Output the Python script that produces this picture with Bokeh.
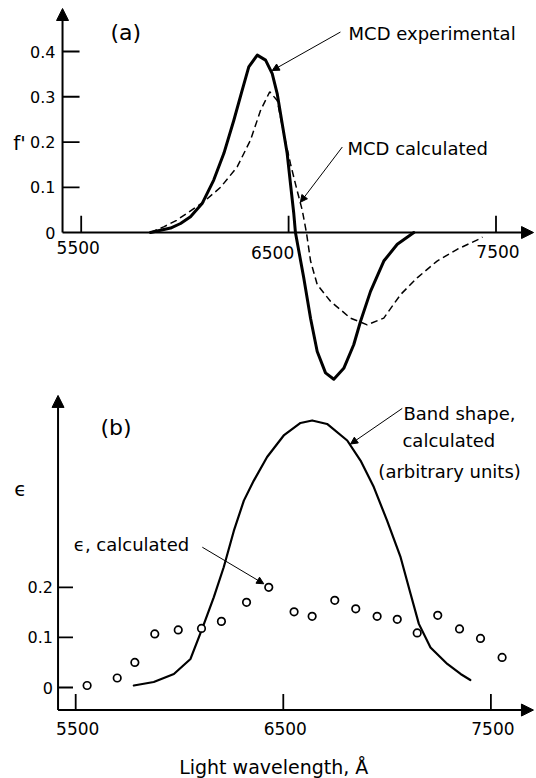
from bokeh.plotting import figure
from bokeh.models import Arrow, NormalHead, Label
from bokeh.layouts import column
from bokeh.embed import file_html
from bokeh.resources import INLINE
from bokeh.core.properties import value

FONT = "DejaVu Sans"

# ---------------- data: panel (a) ----------------
exp_wl = [5834, 5931, 5979, 6027, 6083, 6139, 6188, 6236, 6276, 6308, 6349, 6389, 6421,
          6445, 6469, 6493, 6509, 6525, 6533, 6573, 6606, 6638, 6678, 6718, 6766, 6814,
          6847, 6895, 6959, 7024, 7104]
exp_f = [0.0, 0.01, 0.02, 0.035, 0.064, 0.116, 0.175, 0.248, 0.314, 0.366, 0.392, 0.381,
         0.351, 0.307, 0.241, 0.175, 0.108, 0.042, 0.0, -0.10, -0.19, -0.263, -0.31,
         -0.324, -0.30, -0.248, -0.196, -0.13, -0.063, -0.026, 0.0]

calc_wl = [5834, 5900, 5960, 6091, 6172, 6252, 6316, 6365, 6409, 6445, 6477, 6509, 6541,
           6566, 6586, 6606, 6638, 6702, 6798, 6879, 6959, 7040, 7120, 7216, 7313, 7425,
           7435]
calc_f = [0.0, 0.013, 0.027, 0.068, 0.10, 0.145, 0.204, 0.27, 0.311, 0.292, 0.218, 0.152,
          0.093, 0.049, 0.0, -0.063, -0.115, -0.152, -0.189, -0.204, -0.189, -0.137, -0.10,
          -0.063, -0.037, -0.013, -0.01]

a_xticks = [5500, 6500, 7500]
a_xlabels = ["5500", "6500", "7500"]
a_yticks = [0.1, 0.2, 0.3, 0.4]
a_ylabel_vals = [0, 0.1, 0.2, 0.3, 0.4]
a_ylabels = ["0", "0.1", "0.2", "0.3", "0.4"]

# ---------------- data: panel (b) ----------------
band_wl = [5780, 5876, 5973, 6053, 6109, 6165, 6213, 6262, 6310, 6358, 6422, 6502, 6583,
           6639, 6711, 6808, 6872, 6936, 7000, 7065, 7113, 7153, 7209, 7290, 7354, 7401]
band_val = [0.004, 0.011, 0.027, 0.057, 0.117, 0.18, 0.24, 0.313, 0.373, 0.413, 0.46,
            0.503, 0.528, 0.533, 0.526, 0.493, 0.453, 0.40, 0.333, 0.26, 0.187, 0.127,
            0.08, 0.047, 0.027, 0.015]

eps_wl = [5555, 5700, 5785, 5881, 5994, 6106, 6202, 6323, 6430, 6552, 6639, 6748, 6849,
          6952, 7049, 7145, 7244, 7349, 7450, 7554]
eps_val = [0.004, 0.019, 0.05, 0.107, 0.115, 0.118, 0.132, 0.17, 0.20, 0.151, 0.142, 0.174,
           0.157, 0.142, 0.136, 0.109, 0.144, 0.117, 0.098, 0.06]

b_xticks = [5500, 6500, 7500]
b_xlabels = ["5500", "6500", "7500"]
b_yticks = [0, 0.1, 0.2]
b_ylabels = ["0", "0.1", "0.2"]


def make_fig(h, xr, yr):
    p = figure(width=536, height=h, x_range=xr, y_range=yr, output_backend="svg",
               toolbar_location=None, x_axis_type=None, y_axis_type=None, min_border=0,
               outline_line_color=None, background_fill_color="white",
               border_fill_color="white")
    return p


def label(p, x, y, text, size, align="left"):
    p.add_layout(Label(x=x, y=y, text=text, text_font=FONT, text_font_size=f"{size}px",
                       text_align=align, text_baseline="middle", text_color="black"))


def arrow(p, x0, y0, x1, y1, lw=1.0, size=7):
    p.add_layout(Arrow(x_start=x0, y_start=y0, x_end=x1, y_end=y1, line_width=lw,
                       line_color="black",
                       end=NormalHead(size=size, fill_color="black", line_color="black",
                                      line_width=1)))


# ================= panel (a) =================
p1 = make_fig(390, (5110.9, 7695.3), (-0.349, 0.5127))
ax_a = 5410
arrow(p1, ax_a, 0, 7681, 0, lw=2, size=12)
arrow(p1, ax_a, 0, ax_a, 0.495, lw=2, size=12)
p1.segment(x0=a_xticks, y0=[0] * len(a_xticks), x1=a_xticks, y1=[0.037] * len(a_xticks),
           line_color="black", line_width=1.8)
p1.segment(x0=[ax_a] * len(a_yticks), y0=a_yticks, x1=[ax_a + 82] * len(a_yticks),
           y1=a_yticks, line_color="black", line_width=1.8)
p1.text(x=a_xticks, y=[0] * len(a_xticks), text=a_xlabels, x_offset=[-3, -16, 2],
        y_offset=[15, 20, 19], text_font=value(FONT), text_font_size="17px",
        text_align="center", text_baseline="middle", text_color="black")
p1.text(x=[ax_a] * len(a_ylabel_vals), y=a_ylabel_vals, text=a_ylabels, x_offset=-7,
        text_font=value(FONT), text_font_size="16px", text_align="right",
        text_baseline="middle", text_color="black")
p1.line(calc_wl, calc_f, line_color="black", line_width=1.5, line_dash="7 4")
p1.line(exp_wl, exp_f, line_color="black", line_width=3, line_join="round",
        line_cap="round")
label(p1, 5641, 0.442, "(a)", 22)
label(p1, 5203, 0.197, "f'", 20, "center")
label(p1, 6789, 0.439, "MCD experimental", 18)
label(p1, 6784, 0.185, "MCD calculated", 18)
arrow(p1, 6750, 0.443, 6421, 0.358)
arrow(p1, 6759, 0.189, 6557, 0.067)

# ================= panel (b) =================
p2 = make_fig(388, (5137.8, 7719.7), (-0.1816, 0.5928))
ax_b = 5415
xb = -0.045
arrow(p2, ax_b, xb, 7705, xb, lw=2, size=12)
arrow(p2, ax_b, xb, ax_b, 0.583, lw=2, size=12)
p2.segment(x0=b_xticks, y0=[xb] * len(b_xticks), x1=b_xticks,
           y1=[xb + 0.032] * len(b_xticks), line_color="black", line_width=1.8)
p2.segment(x0=[ax_b] * len(b_yticks), y0=b_yticks, x1=[ax_b + 72] * len(b_yticks),
           y1=b_yticks, line_color="black", line_width=1.8)
p2.text(x=b_xticks, y=[xb] * len(b_xticks), text=b_xlabels, x_offset=[2, 2, 2],
        y_offset=18, text_font=value(FONT), text_font_size="17px",
        text_align="center", text_baseline="middle", text_color="black")
p2.text(x=[ax_b] * len(b_yticks), y=b_yticks, text=b_ylabels, x_offset=-5,
        text_font=value(FONT), text_font_size="16px", text_align="right",
        text_baseline="middle", text_color="black")
p2.line(band_wl, band_val, line_color="black", line_width=2.2, line_join="round",
        line_cap="round")
p2.scatter(eps_wl, eps_val, marker="circle", size=7.5, fill_color="white",
           line_color="black", line_width=1.7)
label(p2, 5619, 0.519, "(b)", 22)
label(p2, 5234, 0.397, "ϵ", 20, "center")
label(p2, 5491, 0.285, "ϵ, calculated", 18)
arrow(p2, 6110, 0.280, 6406, 0.207)
label(p2, 7079, 0.547, "Band shape,", 18)
label(p2, 7074, 0.493, "calculated", 18)
label(p2, 6958, 0.431, "(arbitrary units)", 18)
arrow(p2, 7073, 0.557, 6824, 0.486)
label(p2, 6454, -0.158, "Light wavelength, Å", 19, "center")

layout = column(p1, p2, spacing=0)
open("out.html", "w").write(file_html(layout, INLINE))
